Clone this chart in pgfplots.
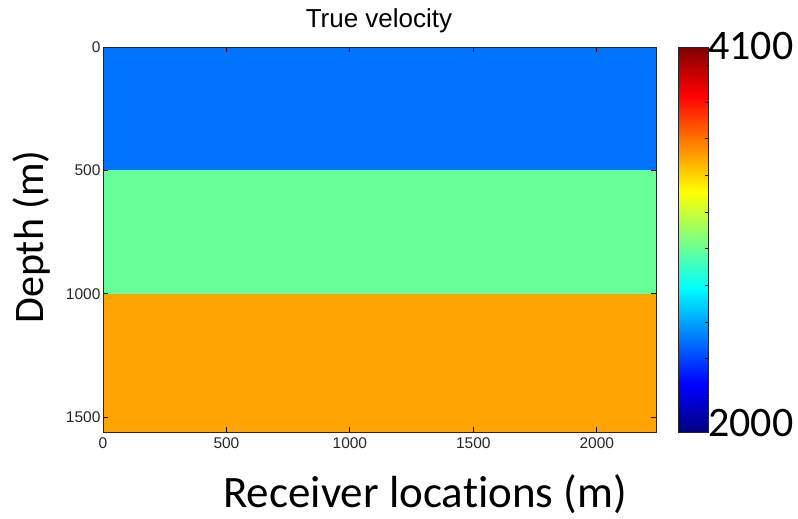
\documentclass[border=0pt]{standalone}
\usepackage{pgfplots}
\pgfplotsset{compat=1.18}
\usepgfplotslibrary{patchplots}
\usepackage{fontspec}
\setmainfont{Liberation Sans}
\newfontfamily\calibri[Ligatures=NoCommon]{Carlito}
\begin{document}
\begin{tikzpicture}
\useasboundingbox (0,0) rectangle (798pt,519pt);
\begin{axis}[
  at={(103pt,87pt)}, anchor=south west,
  width=553pt, height=385pt, scale only axis,
  xmin=0, xmax=2240, ymin=0, ymax=1560, y dir=reverse,
  xtick={0,500,1000,1500,2000}, ytick={0,500,1000,1500},
  xtick pos=both, ytick pos=both,
  xticklabel pos=bottom, yticklabel pos=left,
  tick align=inside, major tick length=5pt,
  tick style={black, line width=0.8pt},
  axis line style={line width=0.9pt, black!85},
  ticklabel style={font=\fontsize{15.5}{15.5}\selectfont, text=black!85},
  xticklabel style={yshift=-2pt},
  yticklabel style={xshift=1pt},
  /pgf/number format/assume math mode=true,
  /pgf/number format/1000 sep={},
  axis on top,
  colormap/jet,
  point meta min=2000, point meta max=4100,
  colorbar,
  colorbar/width=30pt,
  colorbar style={
    at={(parent axis.north east)}, anchor=north west, xshift=14pt,
    width=30pt, height=385pt, scale only axis,
    ytick={2200,2400,2600,2800,3000,3200,3400,3600,3800,4000},
    yticklabels={}, ytick pos=right, tick align=inside,
    major tick length=4pt,
    tick style={black, line width=0.8pt},
    axis line style={line width=0.9pt, black!85},
  },
]
\addplot[patch, patch type=rectangle, shader=flat, point meta=explicit] coordinates {
(0,0) [2500] (2240,0) [2500] (2240,500) [2500] (0,500) [2500]
(0,500) [3000] (2240,500) [3000] (2240,1000) [3000] (0,1000) [3000]
(0,1000) [3500] (2240,1000) [3500] (2240,1560) [3500] (0,1560) [3500]
};
\end{axis}
\node[font=\fontsize{26}{26}\selectfont, anchor=base] at (379pt,491pt) {True velocity};
\node[font=\calibri\fontsize{45}{54}\selectfont, anchor=base] at (425pt,11pt) {Receiver locations (m)};
\node[font=\calibri\fontsize{42}{50}\selectfont, rotate=90, anchor=base] at (43pt,282pt) {Depth (m)};
\node[font=\calibri\fontsize{42}{50}\selectfont, anchor=base west, inner sep=0pt] at (708pt,459pt) {4100};
\node[font=\calibri\fontsize{42}{50}\selectfont, anchor=base west, inner sep=0pt] at (708pt,82pt) {2000};
\end{tikzpicture}
\end{document}
